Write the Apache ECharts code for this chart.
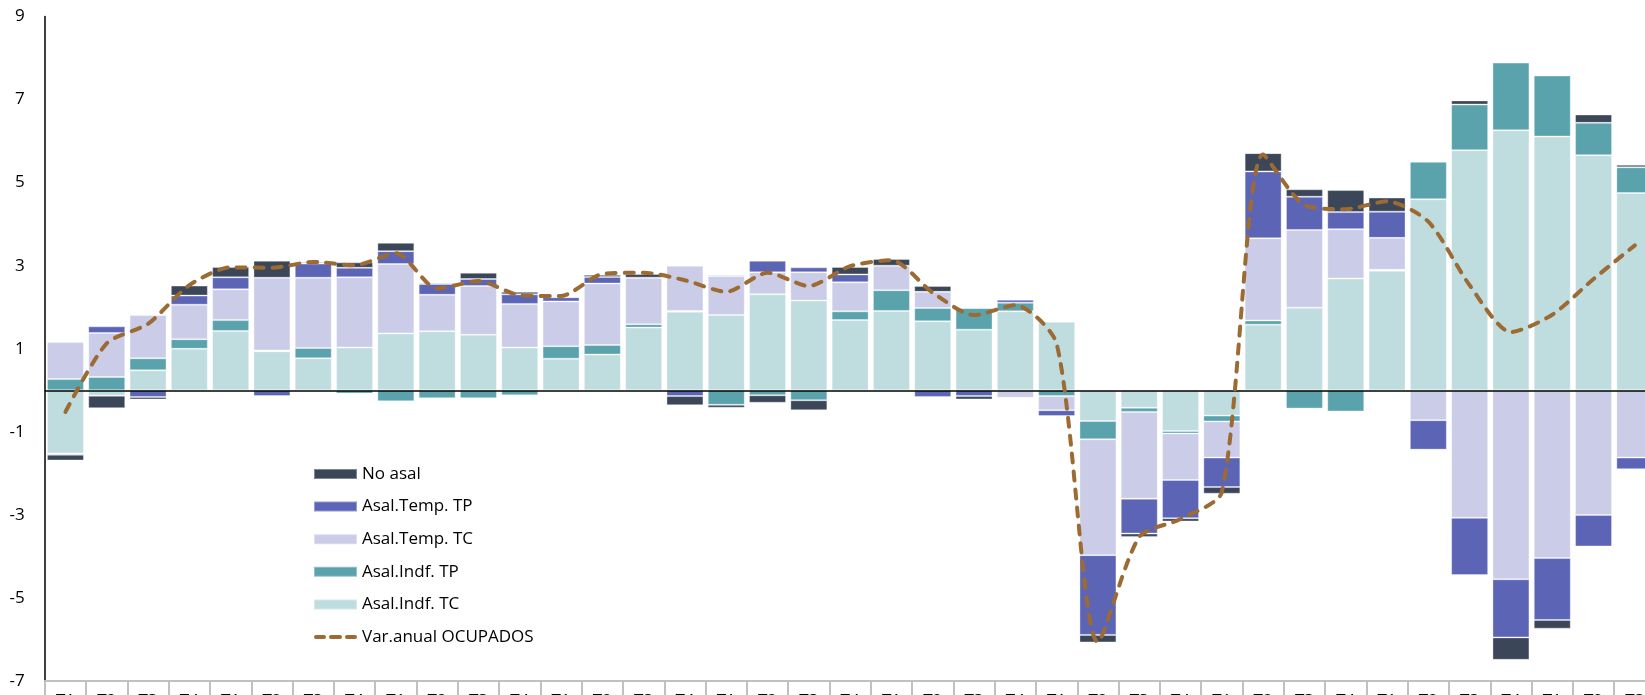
<!DOCTYPE html>
<html><head><meta charset="utf-8">
<script src="https://cdn.jsdelivr.net/npm/echarts@6/dist/echarts.min.js"></script>
<style>html,body{margin:0;padding:0;overflow:hidden;background:#fff} #c{width:1700px;height:720px}</style>
</head><body><div id="c"></div>
<script>
const categories = [
 '2014 T1','2014 T2','2014 T3','2014 T4','2015 T1','2015 T2','2015 T3','2015 T4',
 '2016 T1','2016 T2','2016 T3','2016 T4','2017 T1','2017 T2','2017 T3','2017 T4',
 '2018 T1','2018 T2','2018 T3','2018 T4','2019 T1','2019 T2','2019 T3','2019 T4',
 '2020 T1','2020 T2','2020 T3','2020 T4','2021 T1','2021 T2','2021 T3','2021 T4',
 '2022 T1','2022 T2','2022 T3','2022 T4','2023 T1','2023 T2','2023 T3'];
const indfTC = [-1.52,-0.13,0.48,1.00,1.43,0.94,0.77,1.03,1.37,1.42,1.34,1.03,0.76,0.86,1.51,1.89,1.81,2.31,2.16,1.69,
 1.91,1.66,1.46,1.90,1.65,-0.74,-0.42,-0.98,-0.61,1.58,1.99,2.69,2.88,4.60,5.78,6.26,6.11,5.66,4.75];
const indfTP = [0.27,0.32,0.29,0.23,0.26,0.02,0.25,-0.08,-0.265,-0.19,-0.19,-0.12,0.30,0.23,0.08,0.02,-0.35,-0.12,-0.24,0.21,
 0.50,0.32,0.52,0.21,-0.14,-0.44,-0.10,-0.06,-0.14,0.10,-0.44,-0.51,0.02,0.90,1.10,1.63,1.47,0.78,0.62];
const tempTC = [0.89,1.06,1.04,0.83,0.74,1.75,1.69,1.69,1.67,0.88,1.17,1.05,1.08,1.48,1.12,1.09,0.94,0.53,0.68,0.70,
 0.59,0.39,0,-0.18,-0.34,-2.79,-2.09,-1.12,-0.87,1.98,1.87,1.19,0.77,-0.72,-3.07,-4.55,-4.04,-3.00,-1.62];
const tempTP = [-0.03,0.16,-0.16,0.22,0.29,-0.14,0.34,0.23,0.31,0.26,0.17,0.23,0.10,0.16,0,-0.14,0.03,0.28,0.12,0.19,
 0,-0.16,-0.14,0.07,-0.14,-1.92,-0.84,-0.92,-0.71,1.61,0.80,0.41,0.63,-0.71,-1.38,-1.40,-1.49,-0.76,-0.28];
const noAsal = [-0.14,-0.30,-0.06,0.24,0.25,0.41,0.03,0.13,0.20,0.03,0.15,0.06,0.02,0.05,0.09,-0.22,-0.07,-0.18,-0.24,0.18,
 0.16,0.14,-0.08,0.02,0.02,-0.18,-0.08,-0.08,-0.16,0.44,0.18,0.53,0.34,0,0.10,-0.54,-0.21,0.20,0.06];
const varOcupados = [-0.52,1.13,1.60,2.53,2.96,2.95,3.09,3.01,3.30,2.45,2.63,2.29,2.27,2.80,2.83,2.65,2.37,2.83,2.51,2.99,
 3.13,2.35,1.81,2.05,1.12,-6.06,-3.53,-3.10,-2.45,5.68,4.46,4.36,4.55,4.06,2.53,1.40,1.82,2.68,3.49];

const names = ['No asal','Asal.Temp. TP','Asal.Temp. TC','Asal.Indf. TP','Asal.Indf. TC','Var.anual OCUPADOS'];
const colors = {'No asal':'#3B4659','Asal.Temp. TP':'#5C64B6','Asal.Temp. TC':'#CBCCE7','Asal.Indf. TP':'#5AA3AD','Asal.Indf. TC':'#BFDCDF'};
const FONT = 'Open Sans';
const dashIcon = 'path://M2,0H10A2,2,0,0,1,10,4H2A2,2,0,0,1,2,0Z M17,0H26A2,2,0,0,1,26,4H17A2,2,0,0,1,17,0Z M33,0H41A2,2,0,0,1,41,4H33A2,2,0,0,1,33,0Z';

function barSeries(name, data, extra) {
  return Object.assign({
    name: name, type: 'bar', stack: 'total', data: data, barWidth: 37,
    itemStyle: {color: colors[name], borderColor: 'rgba(255,255,255,0.35)', borderWidth: 1}
  }, extra || {});
}

const chart = echarts.init(document.getElementById('c'), null, {renderer: 'canvas'});
chart.setOption({
  animation: false,
  textStyle: {fontFamily: FONT},
  grid: {left: 44.8, top: 16.5, width: 1610.7, height: 664.5},
  legend: {
    orient: 'vertical', left: 313, top: 464, padding: 0, itemWidth: 43, itemHeight: 10, itemGap: 12.6,
    textStyle: {fontFamily: FONT, fontSize: 17, color: '#000', lineHeight: 20},
    data: [
      {name: names[0], icon: 'rect'}, {name: names[1], icon: 'rect'}, {name: names[2], icon: 'rect'},
      {name: names[3], icon: 'rect'}, {name: names[4], icon: 'rect'}, {name: names[5], icon: dashIcon}
    ]
  },
  xAxis: {
    type: 'category', data: categories,
    axisLine: {onZero: false, lineStyle: {color: '#c0c0c0', width: 2}},
    axisTick: {show: true, length: 25, lineStyle: {color: '#c0c0c0', width: 2}},
    axisLabel: {interval: 0, margin: 12, fontSize: 17, color: '#000', fontFamily: FONT,
      formatter: v => v.split(' ')[1]}
  },
  yAxis: {
    type: 'value', min: -7, max: 9, interval: 1,
    splitLine: {show: false},
    axisLine: {show: true, lineStyle: {color: '#000', width: 1.5}},
    axisTick: {show: false},
    axisLabel: {fontSize: 17, color: '#000', margin: 20, fontFamily: FONT,
      formatter: v => (Math.abs(v) % 2 === 1 ? String(v) : '')}
  },
  series: [
    barSeries('Asal.Indf. TC', indfTC, {
      markLine: {silent: true, symbol: 'none', label: {show: false},
        lineStyle: {color: '#000', width: 1.5, type: 'solid'}, data: [{yAxis: 0}]}
    }),
    barSeries('Asal.Indf. TP', indfTP),
    barSeries('Asal.Temp. TC', tempTC),
    barSeries('Asal.Temp. TP', tempTP),
    barSeries('No asal', noAsal),
    {
      name: 'Var.anual OCUPADOS', type: 'line', data: varOcupados, smooth: 0.25,
      symbol: 'none', z: 10,
      itemStyle: {color: '#9C6A33'},
      lineStyle: {color: '#9C6A33', width: 4, type: [9, 9], cap: 'round'}
    }
  ]
});
</script></body></html>
